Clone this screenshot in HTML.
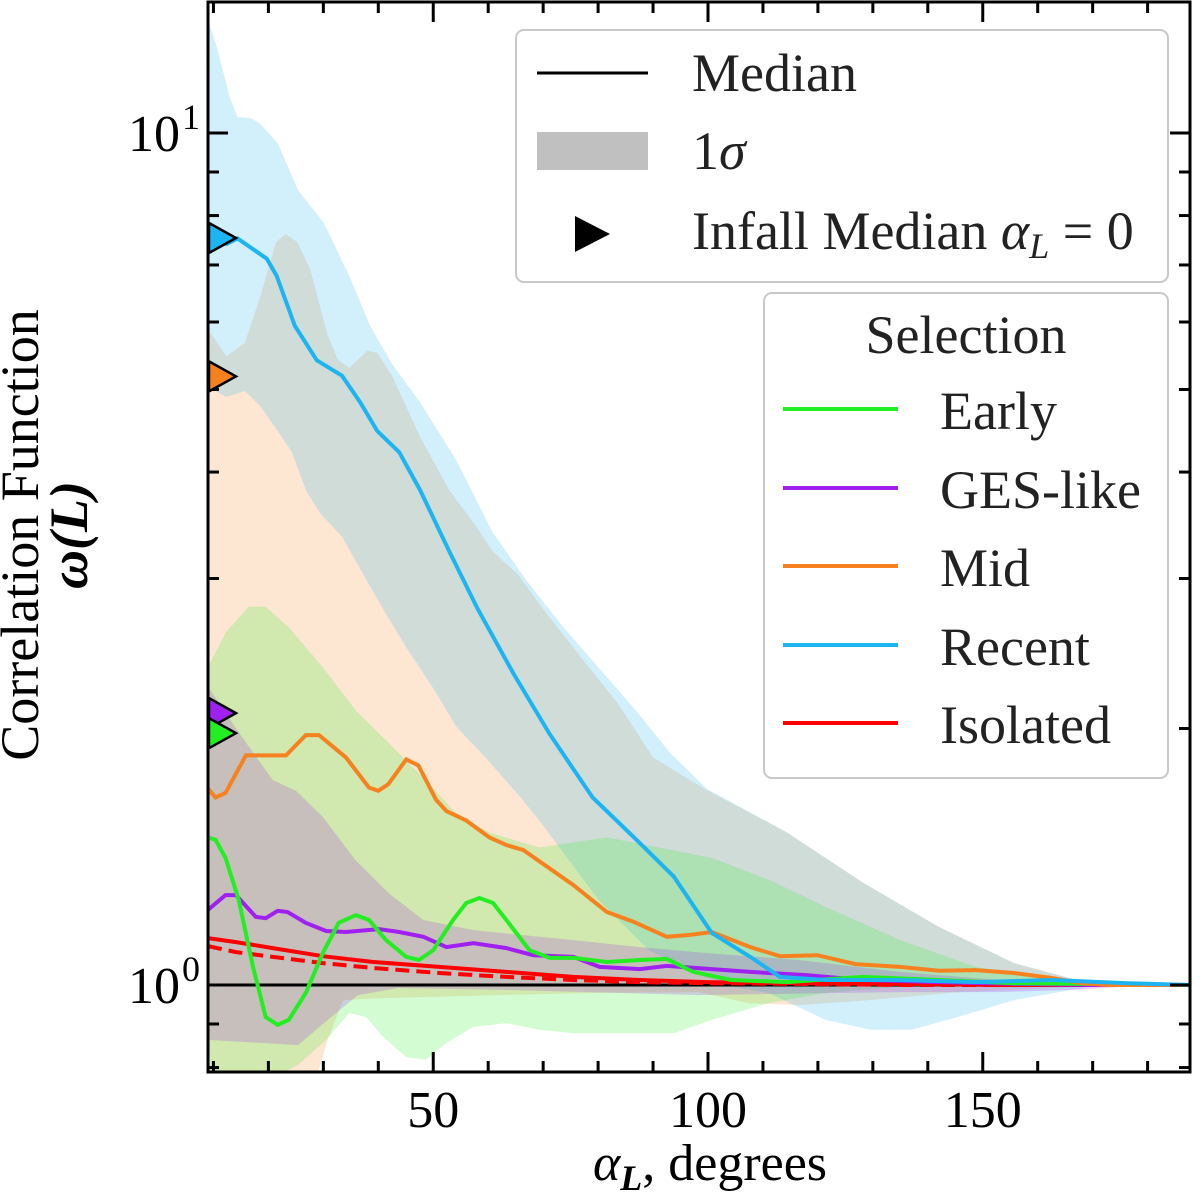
<!DOCTYPE html>
<html><head><meta charset="utf-8">
<style>
html,body{margin:0;padding:0;background:#fff;}
svg{display:block;font-family:"Liberation Serif","DejaVu Serif",serif;}
</style></head>
<body>
<svg id="chart" width="1200" height="1196" viewBox="0 0 1200 1196" xmlns="http://www.w3.org/2000/svg">
<defs><clipPath id="plotclip"><rect x="208" y="2" width="982" height="1070"/></clipPath></defs>
<g id="bands" clip-path="url(#plotclip)"></g>
<g id="lines" clip-path="url(#plotclip)"></g>
<g id="ticks"></g>
<rect x="208" y="2" width="982" height="1070" fill="none" stroke="#000" stroke-width="3"/>
<g id="markers"></g>
<g id="labels" font-size="52" fill="#000"></g>

<text x="710" y="1180" font-size="52" text-anchor="middle"><tspan font-style="italic">α</tspan><tspan font-style="italic" font-weight="bold" font-size="36" dy="10">L</tspan><tspan dy="-10">, degrees</tspan></text>
<g transform="translate(38,535) rotate(-90)">
<text x="0" y="0" font-size="54" text-anchor="middle">Correlation Function</text>
<text x="0" y="49" font-size="54" text-anchor="middle" font-weight="bold" font-style="italic">ω(L)</text>
</g>

<g>
<rect x="516" y="30" width="652" height="252" rx="8" fill="#fff" fill-opacity="0.85" stroke="#c8c8c8" stroke-width="2"/>
<line x1="537" y1="73" x2="648" y2="73" stroke="#000" stroke-width="3"/>
<text x="692" y="91" font-size="54" fill="#222">Median</text>
<rect x="537" y="132" width="111" height="38" fill="#c0c0c0"/>
<text x="692" y="169" font-size="54" fill="#222">1<tspan font-style="italic">σ</tspan></text>
<polygon points="575,216 610,234 575,252" fill="#000"/>
<text x="692" y="249" font-size="54" fill="#222">Infall Median <tspan font-style="italic">α</tspan><tspan font-style="italic" font-size="36" dy="9">L</tspan><tspan dy="-9"> = 0</tspan></text>
</g>

<g>
<rect x="764" y="293" width="404" height="485" rx="8" fill="#fff" fill-opacity="0.85" stroke="#c8c8c8" stroke-width="2"/>
<text x="966" y="353" font-size="54" fill="#222" text-anchor="middle">Selection</text>
<line x1="783" y1="409" x2="898" y2="409" stroke="#22ee22" stroke-width="4"/>
<text x="940" y="429" font-size="54" fill="#222">Early</text>
<line x1="783" y1="488" x2="898" y2="488" stroke="#a020f0" stroke-width="4"/>
<text x="940" y="508" font-size="54" fill="#222">GES-like</text>
<line x1="783" y1="566" x2="898" y2="566" stroke="#f5821f" stroke-width="4"/>
<text x="940" y="586" font-size="54" fill="#222">Mid</text>
<line x1="783" y1="645" x2="898" y2="645" stroke="#1db4f2" stroke-width="4"/>
<text x="940" y="665" font-size="54" fill="#222">Recent</text>
<line x1="783" y1="723" x2="898" y2="723" stroke="#ff0000" stroke-width="4"/>
<text x="940" y="743" font-size="54" fill="#222">Isolated</text>
</g>

<script>
// ---- data ----
const recentX = [9,12.4,14.4,19.7,21.5,24.8,28.8,33.4,36.7,39.8,43.8,47.6,52.9,58.0,64.6,71.2,79.0,87.0,93.8,100.7,107.7,113.1,121.4,135.0,148.7,162.6,176.3,187.8];
const recentY = [7.57,7.41,7.52,7.12,6.80,5.94,5.41,5.19,4.83,4.47,4.22,3.81,3.23,2.77,2.32,1.97,1.66,1.48,1.34,1.151,1.079,1.022,1.0136,1.0136,1.008,1.0136,1.005,1.0];
const recentHiX = [9,10.8,13.0,14.4,16.8,18.4,21.7,25.4,30.1,34.7,38.5,42.5,47.6,54.2,60.8,67.2,73.7,80.3,86.9,93.2,99.8,114.4,128.1,142.0,155.7,169.3,180.5,187.8];
const recentHi = [13.6,12.5,11.0,10.44,10.41,10.27,9.73,8.57,7.84,6.80,5.94,5.36,4.83,4.13,3.40,2.97,2.63,2.35,2.10,1.87,1.70,1.51,1.32,1.17,1.061,1.005,1.0,1.0];
const recentLoX = [9,12.4,15.7,18.4,21.5,24.3,26.8,29.4,33.4,37.2,41.2,45.1,50.4,54.2,59.5,65.9,69.3,73.0,80.1,89.2,98.4,105.7,111.0,121.4,129.6,137.0,145.4,155.7,169.3,180.5,187.8];
const recentLo = [5.03,4.90,4.98,4.79,4.49,4.22,3.81,3.58,3.36,3.04,2.74,2.49,2.21,2.01,1.85,1.66,1.56,1.45,1.259,1.099,1.027,0.992,0.979,0.910,0.886,0.886,0.917,0.960,0.995,1.0,1.0];

const midX = [9,10.4,12.2,15.9,23.2,26.8,29.2,34.1,38.3,40.0,41.8,45.1,47.3,50.5,52.4,56.0,60.2,63.3,66.4,72.4,75.5,81.6,86.5,92.5,96.7,100.7,107.7,113.1,119.9,126.8,135.0,142.0,148.7,155.7,162.6,168.1,172.8,187.8];
const midY = [1.70,1.66,1.68,1.86,1.86,1.965,1.965,1.85,1.705,1.69,1.72,1.84,1.81,1.65,1.60,1.56,1.49,1.46,1.44,1.353,1.31,1.218,1.186,1.139,1.145,1.154,1.108,1.081,1.084,1.058,1.05,1.039,1.041,1.033,1.019,1.005,1.0,1.0];
const midHiX = [9,12.4,15.7,18.4,21.4,23.2,25.2,27.6,30.7,32.7,34.7,38.0,39.8,42.5,47.6,52.9,58.0,60.8,65.3,70.4,77.0,83.6,90.0,99.3,114.4,128.1,142.0,155.7,169.3,179.7,187.8];
const midHi = [5.88,5.47,5.67,6.39,7.45,7.61,7.45,6.92,5.81,5.41,5.30,5.55,5.52,5.19,4.40,3.81,3.44,3.23,3.04,2.74,2.42,2.14,1.85,1.70,1.51,1.32,1.17,1.061,1.005,1.0,1.0];
const midLoX = [9,28.1,30.8,33.6,40.0,61.9,80.1,98.4,107.5,116.6,129.4,144.0,162.2,180.5,187.8];
const midLo = [0.733,0.753,0.862,0.960,0.965,0.973,0.979,0.981,0.952,0.947,0.960,0.979,0.992,1.0,1.0];

const earlyX = [9,10.4,12.2,14.6,17.2,19.5,21.7,23.7,26.8,29.9,32.8,35.9,38.3,41.4,45.1,47.4,50.0,53.6,56.0,58.4,60.9,63.3,67.5,71.2,75.5,81.6,87.6,92.5,97.3,104.2,114.4,128.1,142.0,155.7,169.3,187.8];
const earlyY = [1.49,1.48,1.41,1.259,1.05,0.917,0.898,0.910,0.979,1.09,1.183,1.208,1.192,1.129,1.079,1.07,1.099,1.192,1.248,1.265,1.248,1.192,1.099,1.076,1.076,1.064,1.07,1.073,1.036,1.0136,1.008,1.022,1.0136,1.005,1.003,1.0];
const earlyHiX = [9,12.2,16.4,19.5,23.7,29.9,35.9,42.0,48.2,54.2,60.2,69.3,75.5,81.6,100.7,111.0,121.4,135.0,148.7,169.3,180.5,187.8];
const earlyHi = [2.36,2.59,2.78,2.78,2.63,2.36,2.10,1.92,1.75,1.59,1.51,1.45,1.47,1.49,1.41,1.33,1.235,1.129,1.05,1.005,1.0,1.0];
const earlyLoX = [9,18.1,25.4,30.5,34.7,37.8,40.9,45.1,48.7,52.4,57.3,63.3,69.3,75.5,87.6,93.8,100.7,111.0,121.4,135.0,148.7,180.5,187.8];
const earlyLo = [0.763,0.763,0.806,0.862,0.927,0.917,0.869,0.823,0.817,0.855,0.893,0.902,0.886,0.878,0.878,0.878,0.910,0.952,0.979,0.995,0.995,1.0,1.0];

const gesX = [9,12.2,14.1,17.7,19.5,21.7,23.5,26.8,30.5,34.1,40.1,43.8,48.2,52.4,57.3,63.3,68.2,75.5,80.3,87.6,92.5,100.7,107.7,117.9,128.1,142.0,155.7,169.3,187.8];
const gesY = [1.225,1.275,1.275,1.202,1.198,1.222,1.218,1.183,1.157,1.154,1.163,1.154,1.139,1.108,1.12,1.105,1.084,1.079,1.05,1.044,1.053,1.044,1.036,1.027,1.0136,1.008,1.003,1.0,1.0];
const gesHiX = [9,14.6,20.8,25.0,29.9,35.9,42.0,48.2,57.3,69.3,75.5,87.6,99.8,116.6,134.9,153.1,171.4,187.8];
const gesHi = [2.24,1.98,1.74,1.69,1.575,1.40,1.28,1.192,1.16,1.139,1.129,1.108,1.09,1.07,1.036,1.0136,1.0,1.0];
const gesLoX = [9,25.4,30.8,36.3,43.6,61.9,98.4,134.9,153.1,167.6,180.5,187.8];
const gesLo = [0.862,0.85,0.91,0.973,0.992,0.987,0.973,0.981,0.981,0.987,1.0,1.0];

const isoX = [9,14.1,20.8,29.9,39.1,51.1,63.3,75.5,87.6,99.8,116.6,134.9,153.1,187.8];
const isoY = [1.135,1.123,1.105,1.081,1.064,1.05,1.036,1.022,1.0136,1.008,1.005,1.003,1.0,1.0];
const isoDashY = [1.111,1.093,1.079,1.061,1.047,1.033,1.022,1.0136,1.008,1.005,1.003,1.0,1.0,1.0];

const infallNames = ['recent','mid','ges','early'];
const infallVals = [7.53,5.18,2.085,1.975];
const xTickMajor = [50,100,150];
const xTickLabels = ['50','100','150'];
const yTickMajor = [1,10];
const yTickExp = ['0','1'];
const yTickMinor = [0.8,0.9,2,3,4,5,6,7,8,9];

// ---- axes ----
const X0 = 158.5, XS = 5.495;
const xs = v => X0 + XS * v;
const ys = v => 985 - 852 * Math.log10(v);
const NS = 'http://www.w3.org/2000/svg';
function mk(tag, parent, attrs){const e=document.createElementNS(NS,tag);for(const k in attrs)e.setAttribute(k,attrs[k]);parent.appendChild(e);return e;}
function linePath(xa, ya){return xa.map((x,i)=>(i?'L':'M')+xs(x).toFixed(1)+','+ys(ya[i]).toFixed(1)).join('');}
function bandPath(hx, hy, lx, ly){
  let d = hx.map((x,i)=>(i?'L':'M')+xs(x).toFixed(1)+','+ys(hy[i]).toFixed(1)).join('');
  for(let i=lx.length-1;i>=0;i--) d += 'L'+xs(lx[i]).toFixed(1)+','+ys(ly[i]).toFixed(1);
  return d+'Z';
}
const bands = document.getElementById('bands');
const lines = document.getElementById('lines');

let b;
b = mk('path', bands, {d: bandPath(midHiX, midHi, midLoX, midLo), fill:'#f5821f', 'fill-opacity':0.2});


b = mk('path', bands, {d: bandPath(recentHiX, recentHi, recentLoX, recentLo), fill:'#1db4f2', 'fill-opacity':0.2});


b = mk('path', bands, {d: bandPath(earlyHiX, earlyHi, earlyLoX, earlyLo), fill:'#22ee22', 'fill-opacity':0.2});


b = mk('path', bands, {d: bandPath(gesHiX, gesHi, gesLoX, gesLo), fill:'#a020f0', 'fill-opacity':0.2});



let l;
l = mk('line', lines, {x1:208, x2:1190, y1:ys(1), y2:ys(1), stroke:'#000', 'stroke-width':3});


l = mk('path', lines, {d: linePath(isoX, isoDashY), fill:'none', stroke:'#ff0000', 'stroke-width':4, 'stroke-dasharray':'14,7'});


l = mk('path', lines, {d: linePath(isoX, isoY), fill:'none', stroke:'#ff0000', 'stroke-width':4});


l = mk('path', lines, {d: linePath(gesX, gesY), fill:'none', stroke:'#a020f0', 'stroke-width':4});


l = mk('path', lines, {d: linePath(earlyX, earlyY), fill:'none', stroke:'#22ee22', 'stroke-width':4});


l = mk('path', lines, {d: linePath(midX, midY), fill:'none', stroke:'#f5821f', 'stroke-width':4});


l = mk('path', lines, {d: linePath(recentX, recentY), fill:'none', stroke:'#1db4f2', 'stroke-width':4});



// markers
const mColors = {recent:'#1db4f2', mid:'#f5821f', ges:'#a020f0', early:'#22ee22'};
const markers = document.getElementById('markers');
infallVals.forEach((v,i)=>{
  const y = ys(v);
  const p = mk('polygon', markers, {points:`209,${y-15} 236,${y} 209,${y+15}`, fill:mColors[infallNames[i]], stroke:'#000', 'stroke-width':2.5});
  
  
});

// ticks
const ticks = document.getElementById('ticks');
const tk = (x1,y1,x2,y2)=>mk('line', ticks, {x1,y1,x2,y2,stroke:'#000','stroke-width':3});
for(let v=10; v<=180; v+=10){
  const x = xs(v); const major = v%50===0; const L = major?20:11;
  tk(x,1072,x,1072-L); tk(x,2,x,2+L);
}
yTickMajor.forEach(v=>{const y=ys(v); tk(208,y,228,y); tk(1190,y,1170,y);});
yTickMinor.forEach(v=>{const y=ys(v); tk(208,y,219,y); tk(1190,y,1179,y);});

// labels
const labels = document.getElementById('labels');
xTickMajor.forEach((v,i)=>{
  const t = mk('text', labels, {x:xs(v), y:1127, 'text-anchor':'middle'});
  t.textContent = xTickLabels[i];
  
  
});
yTickMajor.forEach((v,i)=>{
  const y = ys(v);
  const t = mk('text', labels, {x:180, y:y+18, 'text-anchor':'end'});
  t.textContent = '10';
  
  
  const s = mk('text', labels, {x:182, y:y-4, 'font-size':36});
  s.textContent = yTickExp[i];
  
  
});
</script>
</svg>
</body></html>
